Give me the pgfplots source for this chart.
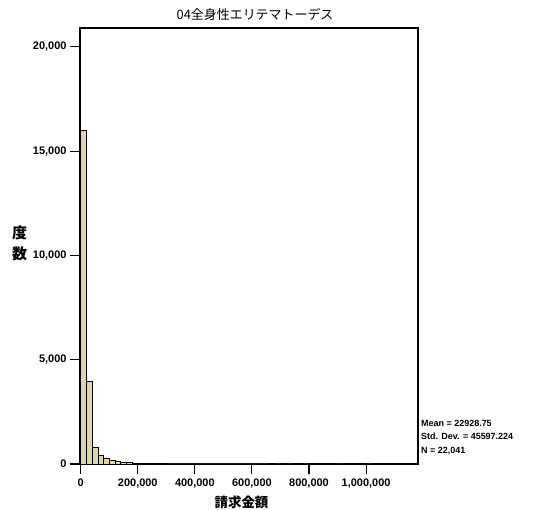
\documentclass[border=0pt]{standalone}
\usepackage{pgfplots}
\pgfplotsset{compat=1.18}
\usepackage{fontspec}
\setmainfont{Liberation Sans}
\newfontfamily\jp{Noto Sans CJK JP}
\definecolor{barfill}{RGB}{222,214,170}
\begin{document}
\begin{tikzpicture}
\path[use as bounding box] (0bp,0bp) rectangle (542bp,510bp);
\begin{axis}[
  at={(80bp,46bp)}, anchor=south west,
  scale only axis, width=338bp, height=436bp,
  xmin=-2500, xmax=1182000, ymin=0, ymax=20900,
  axis line style={line width=1.3bp},
  xtick={0,200000,400000,600000,800000,1000000},
  ytick={0,5000,10000,15000,20000},
  xtick pos=bottom, ytick pos=left,
  tick align=outside, major tick length=10bp,
  tick style={line width=1.1bp, black},
  scaled ticks=false,
  /pgf/number format/fixed,
  /pgf/number format/precision=0,
  /pgf/number format/1000 sep={,},
  /pgf/number format/assume math mode=true,
  ticklabel style={font=\fontsize{11}{12}\selectfont\bfseries},
  xticklabel style={yshift=-1bp},
]
\addplot[ybar interval, fill=barfill, draw=black, line width=0.6bp] coordinates {
(0,15990) (20000,3950) (40000,780) (60000,430) (80000,280) (100000,170)
(120000,120) (140000,80) (160000,60) (180000,40) (200000,30) (220000,22)
(240000,16) (260000,12) (280000,10) (300000,8) (320000,6) (340000,5)
(360000,5) (380000,6) (400000,8) (420000,5) (440000,3) (460000,2)
(480000,2) (500000,2) (520000,1) (540000,1) (560000,1) (580000,1)
(600000,1) (620000,1) (640000,1) (660000,0) (680000,1) (700000,0)
(720000,1) (740000,0) (760000,0) (780000,1) (800000,0) (820000,0)
(840000,0) (860000,0) (880000,0) (900000,1) (920000,0) (940000,0)
(960000,0) (980000,0) (1000000,1) (1020000,0)
};
\end{axis}
\node[font=\jp\fontsize{13}{15}\selectfont] at (255bp,495bp) {04全身性エリテマトーデス};
\node[font=\jp\bfseries\fontsize{15}{21}\selectfont, align=center] at (19.5bp,266.5bp) {度\\数};
\node[font=\jp\bfseries\fontsize{13.5}{15}\selectfont] at (241.5bp,8bp) {請求金額};
\node[font=\bfseries\fontsize{9}{13.5}\selectfont, align=left, anchor=north west, inner sep=0pt] at (421bp,90bp) {Mean = 22928.75\\Std. Dev. = 45597.224\\N = 22,041};
\end{tikzpicture}
\end{document}
